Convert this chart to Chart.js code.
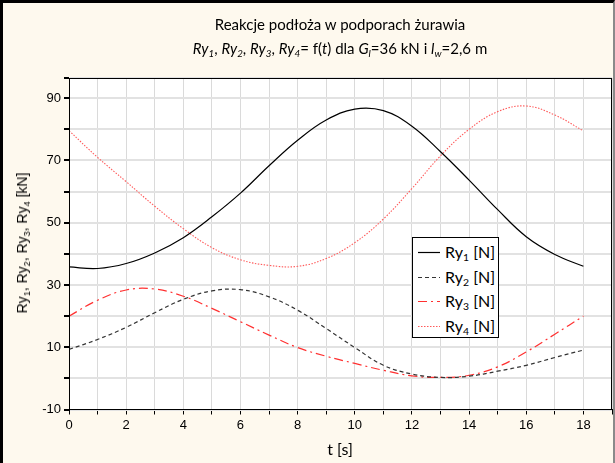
<!DOCTYPE html>
<html>
<head>
<meta charset="utf-8">
<script src="https://cdn.jsdelivr.net/npm/chart.js@4.4.1/dist/chart.umd.min.js"></script>
<style>
  html, body { margin: 0; padding: 0; background: #fff; }
  #wrap { position: relative; width: 615px; height: 463px; background: #fef9ee; overflow: hidden; }
  #frame { position: absolute; left: 0; top: 0; width: 615px; height: 463px; box-sizing: border-box;
    border-left: 3px solid #000; border-top: 3px solid #000; border-right: 2px solid #8a8a8a; pointer-events: none; }
  canvas { position: absolute; left: 0; top: 0; }
  .calibri { font-family: Lato, "Open Sans", sans-serif; color: #000; }
  #title { position: absolute; left: 69px; width: 542px; top: 12px; text-align: center; font-size: 15px; line-height: 24px; }
  #xtitle { position: absolute; left: 69px; width: 542px; top: 439px; text-align: center; font-size: 16px; }
  #ytitle { position: absolute; left: 22px; top: 243px; transform: translate(-50%, -50%) rotate(-90deg);
    white-space: nowrap; font-family: "Liberation Sans", Arial, sans-serif; font-size: 14px; }
  sub { font-size: 0.65em; vertical-align: -0.3em; line-height: 0; }
  #legend { position: absolute; left: 412px; top: 237px; width: 87px; height: 101px; background: #fff;
    border: 1.5px solid #000; box-sizing: border-box; }
  #legend .row { position: absolute; left: 0; height: 24px; font-size: 16px; line-height: 24px; white-space: nowrap; }
  #legend svg { position: absolute; left: 5px; top: 11px; }
  #legend span { position: absolute; left: 32px; top: 0; }
</style>
</head>
<body>
<div id="wrap">
  <canvas id="chart" width="615" height="463"></canvas>
  <div id="title" class="calibri">
    <div>Reakcje podłoża w podporach żurawia</div>
    <div><i>Ry<sub>1</sub></i>, <i>Ry<sub>2</sub></i>, <i>Ry<sub>3</sub></i>, <i>Ry<sub>4</sub></i>= f(<i>t</i>) dla <i>G<sub>l</sub></i>=36 kN i <i>l<sub>w</sub></i>=2,6 m</div>
  </div>
  <div id="xtitle" class="calibri">t [s]</div>
  <div id="ytitle">Ry<sub>1</sub>, Ry<sub>2</sub>, Ry<sub>3</sub>, Ry<sub>4</sub> [kN]</div>
  <div id="legend" class="calibri"></div>
  <div id="frame"></div>
</div>
<script>
// values, one per second
const tValues = [0, 1, 2, 3, 4, 5, 6, 7, 8, 9, 10, 11, 12, 13, 14, 15, 16, 17, 18];
const ry1 = [35.8, 35.3, 36.9, 40.3, 45.2, 51.9, 59.5, 68.3, 76.5, 83.0, 86.5, 86.0, 81.0, 72.8, 63.7, 54.2, 45.5, 39.8, 36.0];
const ry2 = [9.3, 12.5, 16.4, 21.1, 25.4, 28.1, 28.5, 26.2, 21.9, 16.0, 9.9, 4.2, 1.4, 0.3, 0.7, 2.3, 4.2, 6.7, 9.1];
const ry3 = [20.0, 25.1, 28.4, 28.7, 26.4, 22.5, 18.2, 13.9, 9.9, 7.1, 4.8, 2.6, 0.8, 0.3, 1.0, 3.7, 8.5, 14.2, 20.0];
const ry4 = [79.6, 71.0, 63.2, 55.3, 48.1, 42.0, 38.1, 36.3, 36.0, 38.5, 43.6, 51.2, 61.0, 71.5, 80.0, 85.7, 87.5, 84.6, 79.5];

const seriesNames = ['1', '2', '3', '4'];
const xLabelTicks = [0, 2, 4, 6, 8, 10, 12, 14, 16, 18];
const yLabelTicks = [-10, 10, 30, 50, 70, 90];

const styles = [
  { color: '#000000', dash: [], width: 1.2 },
  { color: '#333333', dash: [4, 3], width: 1.2 },
  { color: '#ff3030', dash: [9, 4, 2, 4], width: 1.2 },
  { color: '#ff5a5a', dash: [1.5, 1.5], width: 1.1 },
];

const toPoints = vals => vals.map((v, i) => ({ x: tValues[i], y: v }));

// white plot area + black frame
const plotFrame = {
  id: 'plotFrame',
  beforeDraw(chart) {
    const { ctx, chartArea: a } = chart;
    ctx.save();
    ctx.fillStyle = '#fff';
    ctx.fillRect(a.left, a.top, a.right - a.left, a.bottom - a.top);
    ctx.restore();
  },
  afterDraw(chart) {
    const { ctx, chartArea: a } = chart;
    ctx.save();
    ctx.strokeStyle = '#000';
    ctx.lineWidth = 1;
    ctx.strokeRect(Math.round(a.left) + 0.5, Math.round(a.top) + 0.5,
      Math.round(a.right - a.left) - 1, Math.round(a.bottom - a.top) - 1);
    ctx.restore();
  },
};

new Chart(document.getElementById('chart'), {
  type: 'line',
  data: {
    datasets: [ry1, ry2, ry3, ry4].map((vals, i) => ({
      label: 'Ry' + seriesNames[i] + ' [N]',
      data: toPoints(vals),
      borderColor: styles[i].color,
      borderDash: styles[i].dash,
      borderWidth: styles[i].width,
      pointRadius: 0,
      tension: 0.4,
      fill: false,
    })),
  },
  options: {
    responsive: false,
    animation: false,
    layout: { padding: { left: 0, top: 78, right: 3, bottom: 0 } },
    plugins: { legend: { display: false }, tooltip: { enabled: false } },
    scales: {
      x: {
        type: 'linear',
        min: 0,
        max: 19,
        grid: { color: '#dadada', lineWidth: 1, tickColor: '#000', tickLength: 5 },
        border: { color: '#000' },
        ticks: {
          stepSize: 1,
          autoSkip: false,
          maxRotation: 0,
          padding: 3,
          color: '#000',
          font: { family: 'Liberation Sans', size: 13 },
          callback: v => xLabelTicks.includes(v) ? String(v) : '',
        },
        afterFit: s => { s.height = 53.5; },
      },
      y: {
        min: -10,
        max: 96.5,
        grid: { color: '#e2e2e2', lineWidth: 2, tickColor: '#000', tickLength: 5 },
        border: { color: '#000' },
        ticks: {
          stepSize: 10,
          autoSkip: false,
          padding: 3,
          color: '#000',
          font: { family: 'Liberation Sans', size: 13 },
          callback: v => yLabelTicks.includes(v) ? String(v) : '',
        },
        afterFit: s => { s.width = 69; },
      },
    },
  },
  plugins: [plotFrame],
});

// legend box with line samples
const legend = document.getElementById('legend');
seriesNames.forEach((n, i) => {
  const row = document.createElement('div');
  row.className = 'row';
  row.style.top = (2 + i * 24.5) + 'px';
  const st = styles[i];
  row.innerHTML =
    '<svg width="22" height="3"><line x1="0" y1="1.5" x2="22" y2="1.5" stroke="' + st.color +
    '" stroke-width="' + st.width + '" stroke-dasharray="' + (st.dash.join(',') || 'none') + '"/></svg>' +
    '<span>Ry<sub>' + n + '</sub> [N]</span>';
  legend.appendChild(row);
});
</script>
</body>
</html>
